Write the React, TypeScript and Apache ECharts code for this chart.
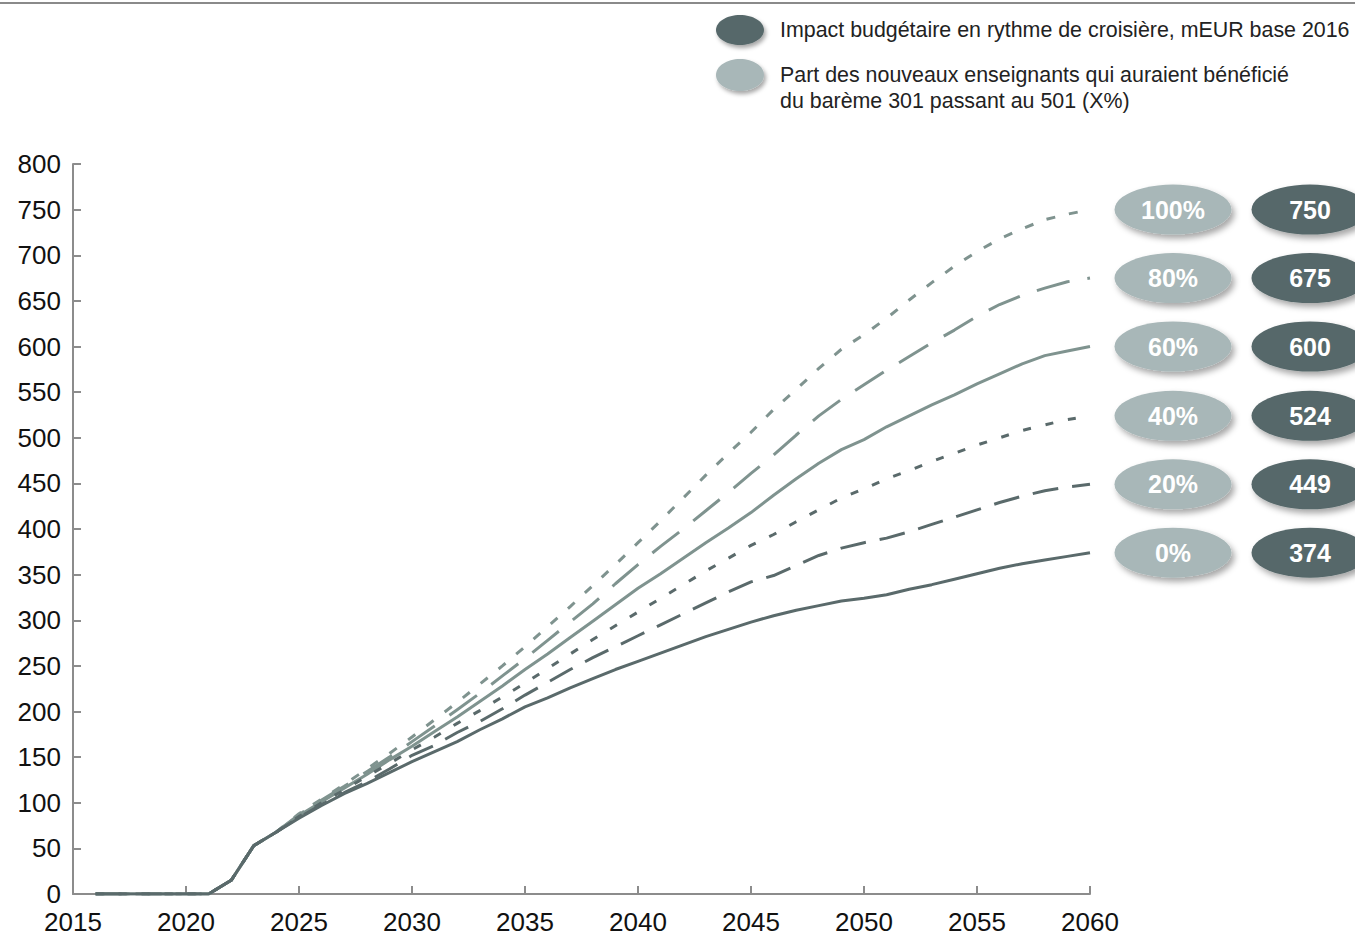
import React, { useEffect, useRef } from "react";
import * as echarts from "echarts";

const years = [
  2016, 2017, 2018, 2019, 2020, 2021, 2022, 2023, 2024, 2025,
  2026, 2027, 2028, 2029, 2030, 2031, 2032, 2033, 2034, 2035,
  2036, 2037, 2038, 2039, 2040, 2041, 2042, 2043, 2044, 2045,
  2046, 2047, 2048, 2049, 2050, 2051, 2052, 2053, 2054, 2055,
  2056, 2057, 2058, 2059, 2060,
];

const s0 = [
  0, 0, 0, 0, 0, 0, 15, 53, 68, 83,
  97, 110, 121, 133, 145, 156, 167, 180, 192, 205,
  215, 226, 236, 246, 255, 264, 273, 282, 290, 298,
  305, 311, 316, 321, 324, 328, 334, 339, 345, 351,
  357, 362, 366, 370, 374,
];
const s20 = [
  0, 0, 0, 0, 0, 0, 15, 53, 68, 84,
  98, 111, 123, 137, 152, 163, 177, 189, 203, 218,
  232, 246, 259, 271, 283, 295, 307, 319, 331, 342,
  349, 360, 371, 379, 385, 390, 397, 405, 413, 421,
  429, 436, 442, 446, 449,
];
const s40 = [
  0, 0, 0, 0, 0, 0, 15, 53, 68, 85,
  100, 114, 129, 143, 158, 172, 187, 201, 216, 231,
  247, 263, 279, 294, 309, 324, 339, 354, 368, 382,
  394, 408, 421, 434, 444, 455, 464, 474, 483, 492,
  500, 508, 514, 520, 524,
];
const s60 = [
  0, 0, 0, 0, 0, 0, 15, 53, 68, 86,
  101, 116, 131, 147, 162, 178, 194, 211, 228, 246,
  263, 281, 299, 317, 335, 351, 368, 385, 401, 418,
  437, 455, 472, 487, 498, 512, 524, 536, 547, 559,
  570, 581, 590, 595, 600,
];
const s80 = [
  0, 0, 0, 0, 0, 0, 15, 53, 68, 87,
  103, 118, 134, 150, 167, 184, 202, 220, 239, 258,
  278, 298, 318, 340, 361, 381, 400, 420, 440, 461,
  481, 503, 524, 542, 558, 574, 589, 604, 618, 633,
  646, 656, 664, 671, 675,
];
const s100 = [
  0, 0, 0, 0, 0, 0, 15, 53, 68, 88,
  104, 120, 137, 154, 172, 191, 210, 230, 250, 271,
  293, 315, 338, 361, 385, 409, 434, 459, 483, 506,
  531, 553, 576, 597, 613, 631, 651, 670, 688, 704,
  718, 729, 739, 745, 750,
];

const shareLabels = ["0%", "20%", "40%", "60%", "80%", "100%"];
const endLabels = ["374", "449", "524", "600", "675", "750"];
const seriesValues = [s0, s20, s40, s60, s80, s100];

const yTicks = { min: 0, max: 800, interval: 50 };
const xTicks = { min: 2015, max: 2060, interval: 5 };

const legendTexts = [
  "Impact budgétaire en rythme de croisière, mEUR base 2016",
  "Part des nouveaux enseignants qui auraient bénéficié",
  "du barème 301 passant au 501 (X%)",
];

const DARK = "#5a6a6b";
const LIGHT = "#7f938f";
const BUBBLE_DARK = "#56686a";
const BUBBLE_LIGHT = "#a8b7b8";
const FONT = "'Liberation Sans', Arial, Helvetica, sans-serif";

const lineStyles: any[] = [
  { color: DARK, type: "solid" },
  { color: DARK, type: [26, 14] },
  { color: DARK, type: [8, 15] },
  { color: LIGHT, type: "solid" },
  { color: LIGHT, type: [34, 18] },
  { color: LIGHT, type: [9, 14] },
];

const shadow = {
  shadowColor: "rgba(0,0,0,0.35)",
  shadowBlur: 6,
  shadowOffsetX: 3,
  shadowOffsetY: 4,
};

export default function App() {
  const ref = useRef<HTMLDivElement>(null);

  useEffect(() => {
    if (!ref.current) return;
    const chart = echarts.init(ref.current, undefined, { renderer: "svg" });

    const series = seriesValues.map((vals, i) => {
      const last = vals[vals.length - 1];
      return {
        type: "line",
        name: shareLabels[i],
        data: years.map((y, k) => [y, vals[k]]),
        showSymbol: false,
        symbol: "none",
        lineStyle: { width: 3, color: lineStyles[i].color, type: lineStyles[i].type },
        z: i < 3 ? 3 : 2,
        markPoint: {
          silent: true,
          data: [
            {
              coord: [2060, last],
              symbol: "circle",
              symbolSize: [117, 50],
              symbolOffset: [83, 0],
              itemStyle: { color: BUBBLE_LIGHT, ...shadow },
              label: {
                show: true,
                formatter: shareLabels[i],
                color: "#fff",
                fontSize: 25,
                fontWeight: "bold",
                fontFamily: FONT,
              },
            },
            {
              coord: [2060, last],
              symbol: "circle",
              symbolSize: [117, 50],
              symbolOffset: [220, 0],
              itemStyle: { color: BUBBLE_DARK, ...shadow },
              label: {
                show: true,
                formatter: endLabels[i],
                color: "#fff",
                fontSize: 25,
                fontWeight: "bold",
                fontFamily: FONT,
              },
            },
          ],
        },
      };
    });

    chart.setOption({
      animation: false,
      backgroundColor: "#fff",
      grid: { left: 73, right: 265, top: 164, bottom: 42, containLabel: false },
      xAxis: {
        type: "value",
        min: xTicks.min,
        max: xTicks.max,
        interval: xTicks.interval,
        axisLine: { show: true, lineStyle: { color: "#8c8c8c", width: 2 } },
        axisTick: { show: true, inside: true, length: 8, lineStyle: { color: "#8c8c8c", width: 2 } },
        splitLine: { show: false },
        axisLabel: {
          formatter: (v: number) => String(v),
          fontSize: 26,
          color: "#111",
          fontFamily: FONT,
          margin: 15,
        },
      },
      yAxis: {
        type: "value",
        min: yTicks.min,
        max: yTicks.max,
        interval: yTicks.interval,
        axisLine: { show: true, lineStyle: { color: "#8c8c8c", width: 2 } },
        axisTick: { show: true, inside: true, length: 8, lineStyle: { color: "#8c8c8c", width: 2 } },
        splitLine: { show: false },
        axisLabel: {
          fontSize: 26,
          color: "#111",
          fontFamily: FONT,
          margin: 12,
        },
      },
      series,
      graphic: [
        {
          type: "line",
          shape: { x1: 0, y1: 3, x2: 1355, y2: 3 },
          style: { stroke: "#8a8a8a", lineWidth: 2 },
        },
        {
          type: "ellipse",
          shape: { cx: 740, cy: 30, rx: 24, ry: 15 },
          style: { fill: BUBBLE_DARK, ...shadow, shadowBlur: 4, shadowOffsetX: 2, shadowOffsetY: 3 },
        },
        {
          type: "ellipse",
          shape: { cx: 740, cy: 75, rx: 24, ry: 16 },
          style: { fill: BUBBLE_LIGHT, ...shadow, shadowBlur: 4, shadowOffsetX: 2, shadowOffsetY: 3 },
        },
        {
          type: "text",
          x: 780,
          y: 30,
          style: {
            text: legendTexts[0],
            font: `21.4px ${FONT}`,
            fill: "#222",
            textVerticalAlign: "middle",
          },
        },
        {
          type: "text",
          x: 780,
          y: 75,
          style: {
            text: legendTexts[1],
            font: `21.4px ${FONT}`,
            fill: "#222",
            textVerticalAlign: "middle",
          },
        },
        {
          type: "text",
          x: 780,
          y: 101,
          style: {
            text: legendTexts[2],
            font: `21.4px ${FONT}`,
            fill: "#222",
            textVerticalAlign: "middle",
          },
        },
      ],
    });

    return () => chart.dispose();
  }, []);

  return (
    <div
      ref={ref}
      style={{ position: "fixed", left: 0, top: 0, width: 1355, height: 936 }}
    />
  );
}
